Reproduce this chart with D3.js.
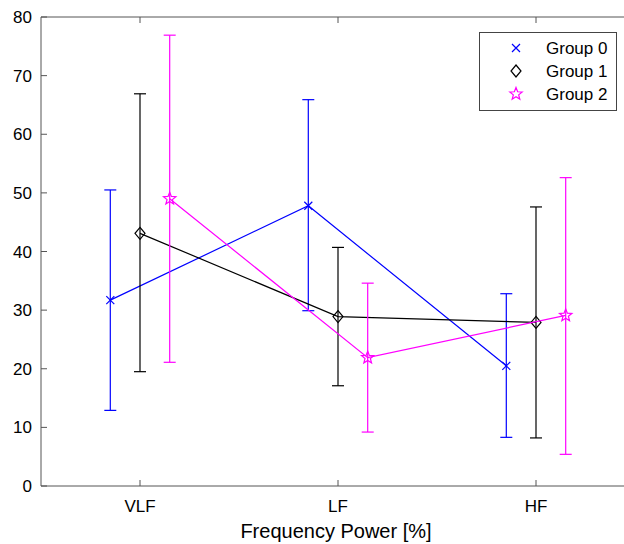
<!DOCTYPE html>
<html>
<head>
<meta charset="utf-8">
<script src="https://cdn.jsdelivr.net/npm/d3@7"></script>
<style>
  body { margin: 0; background: #fff; }
  svg { font-family: "Liberation Sans", Arial, sans-serif; }
</style>
</head>
<body>
<svg id="chart" width="624" height="544"></svg>
<script>
// categories and groups
var categories = ["VLF", "LF", "HF"];
var groups = ["Group 0", "Group 1", "Group 2"];
var yTicks = [0, 10, 20, 30, 40, 50, 60, 70, 80];

// mean values per group (VLF, LF, HF)
var group0Mean = [31.7, 47.8, 20.5];
var group1Mean = [43.1, 28.9, 27.9];
var group2Mean = [49.0, 21.9, 29.1];

// error bar low / high ends
var group0Low = [12.9, 29.9, 8.3];
var group0High = [50.5, 65.9, 32.8];
var group1Low = [19.5, 17.1, 8.2];
var group1High = [66.9, 40.7, 47.6];
var group2Low = [21.1, 9.2, 5.4];
var group2High = [76.9, 34.6, 52.6];

var colors = ["#0000ff", "#000000", "#ff00ff"];
var offsets = [-0.15, 0, 0.15]; // dodge in category units

var series = [
  {name: groups[0], mean: group0Mean, low: group0Low, high: group0High, marker: "x"},
  {name: groups[1], mean: group1Mean, low: group1Low, high: group1High, marker: "diamond"},
  {name: groups[2], mean: group2Mean, low: group2Low, high: group2High, marker: "star"}
];

var svg = d3.select("#chart");
var x = d3.scaleLinear().domain([0.5, 3.5]).range([41, 635]);
var y = d3.scaleLinear().domain([0, 80]).range([486, 17]);

// box + axes
var axisColor = "#555";
svg.append("line").attr("x1", 41).attr("x2", 624).attr("y1", 17).attr("y2", 17).attr("stroke", axisColor);
svg.append("line").attr("x1", 41).attr("x2", 624).attr("y1", 486).attr("y2", 486).attr("stroke", axisColor);
svg.append("line").attr("x1", 41).attr("x2", 41).attr("y1", 17).attr("y2", 486).attr("stroke", axisColor);

yTicks.forEach(function(t) {
  svg.append("line").attr("x1", 41).attr("x2", 47).attr("y1", y(t)).attr("y2", y(t)).attr("stroke", axisColor);
  svg.append("text").attr("x", 32).attr("y", y(t) + 6)
    .attr("text-anchor", "end").attr("font-size", 17).attr("fill", "#000").text(t);
});
categories.forEach(function(c, i) {
  svg.append("line").attr("x1", x(i + 1)).attr("x2", x(i + 1)).attr("y1", 486).attr("y2", 480).attr("stroke", axisColor);
  svg.append("line").attr("x1", x(i + 1)).attr("x2", x(i + 1)).attr("y1", 17).attr("y2", 23).attr("stroke", axisColor);
  svg.append("text").attr("x", x(i + 1)).attr("y", 512)
    .attr("text-anchor", "middle").attr("font-size", 17).attr("fill", "#000").text(c);
});
svg.append("text").attr("x", 336).attr("y", 538).attr("text-anchor", "middle")
  .attr("font-size", 20).attr("fill", "#000").text("Frequency Power [%]");

function drawMarker(g, type, cx, cy, color) {
  if (type === "x") {
    g.append("path").attr("d", "M" + (cx - 4) + "," + (cy - 4) + "L" + (cx + 4) + "," + (cy + 4) +
      "M" + (cx - 4) + "," + (cy + 4) + "L" + (cx + 4) + "," + (cy - 4))
      .attr("stroke", color).attr("stroke-width", 1.2).attr("fill", "none");
  } else if (type === "diamond") {
    g.append("path").attr("d", "M" + cx + "," + (cy - 6) + "L" + (cx + 5) + "," + cy +
      "L" + cx + "," + (cy + 6) + "L" + (cx - 5) + "," + cy + "Z")
      .attr("stroke", color).attr("stroke-width", 1.2).attr("fill", "none");
  } else {
    var pts = [];
    for (var k = 0; k < 10; k++) {
      var r = k % 2 === 0 ? 6.5 : 2.8;
      var a = -Math.PI / 2 + k * Math.PI / 5;
      pts.push([cx + r * Math.cos(a), cy + r * Math.sin(a)]);
    }
    g.append("path").attr("d", d3.line()(pts) + "Z")
      .attr("stroke", color).attr("stroke-width", 1.2).attr("fill", "none");
  }
}

var line = d3.line().x(function(d) { return d[0]; }).y(function(d) { return d[1]; });

series.forEach(function(s, gi) {
  var g = svg.append("g");
  var color = colors[gi];
  var pts = s.mean.map(function(v, i) { return [x(i + 1 + offsets[gi]), y(v)]; });
  // error bars
  s.mean.forEach(function(v, i) {
    var cx = x(i + 1 + offsets[gi]);
    g.append("line").attr("x1", cx).attr("x2", cx).attr("y1", y(s.low[i])).attr("y2", y(s.high[i]))
      .attr("stroke", color).attr("stroke-width", 1.2);
    [s.low[i], s.high[i]].forEach(function(e) {
      g.append("line").attr("x1", cx - 6).attr("x2", cx + 6).attr("y1", y(e)).attr("y2", y(e))
        .attr("stroke", color).attr("stroke-width", 1.2);
    });
  });
  g.append("path").attr("d", line(pts)).attr("stroke", color).attr("stroke-width", 1.2).attr("fill", "none");
  pts.forEach(function(p) { drawMarker(g, s.marker, p[0], p[1], color); });
});

// legend
var leg = svg.append("g");
leg.append("rect").attr("x", 479.5).attr("y", 32.5).attr("width", 137).attr("height", 78)
  .attr("fill", "#fff").attr("stroke", "#444");
series.forEach(function(s, gi) {
  var ly = 48 + gi * 23;
  drawMarker(leg, s.marker, 516, ly, colors[gi]);
  leg.append("text").attr("x", 546).attr("y", ly + 6).attr("font-size", 17).attr("fill", "#000").text(s.name);
});
</script>
</body>
</html>
